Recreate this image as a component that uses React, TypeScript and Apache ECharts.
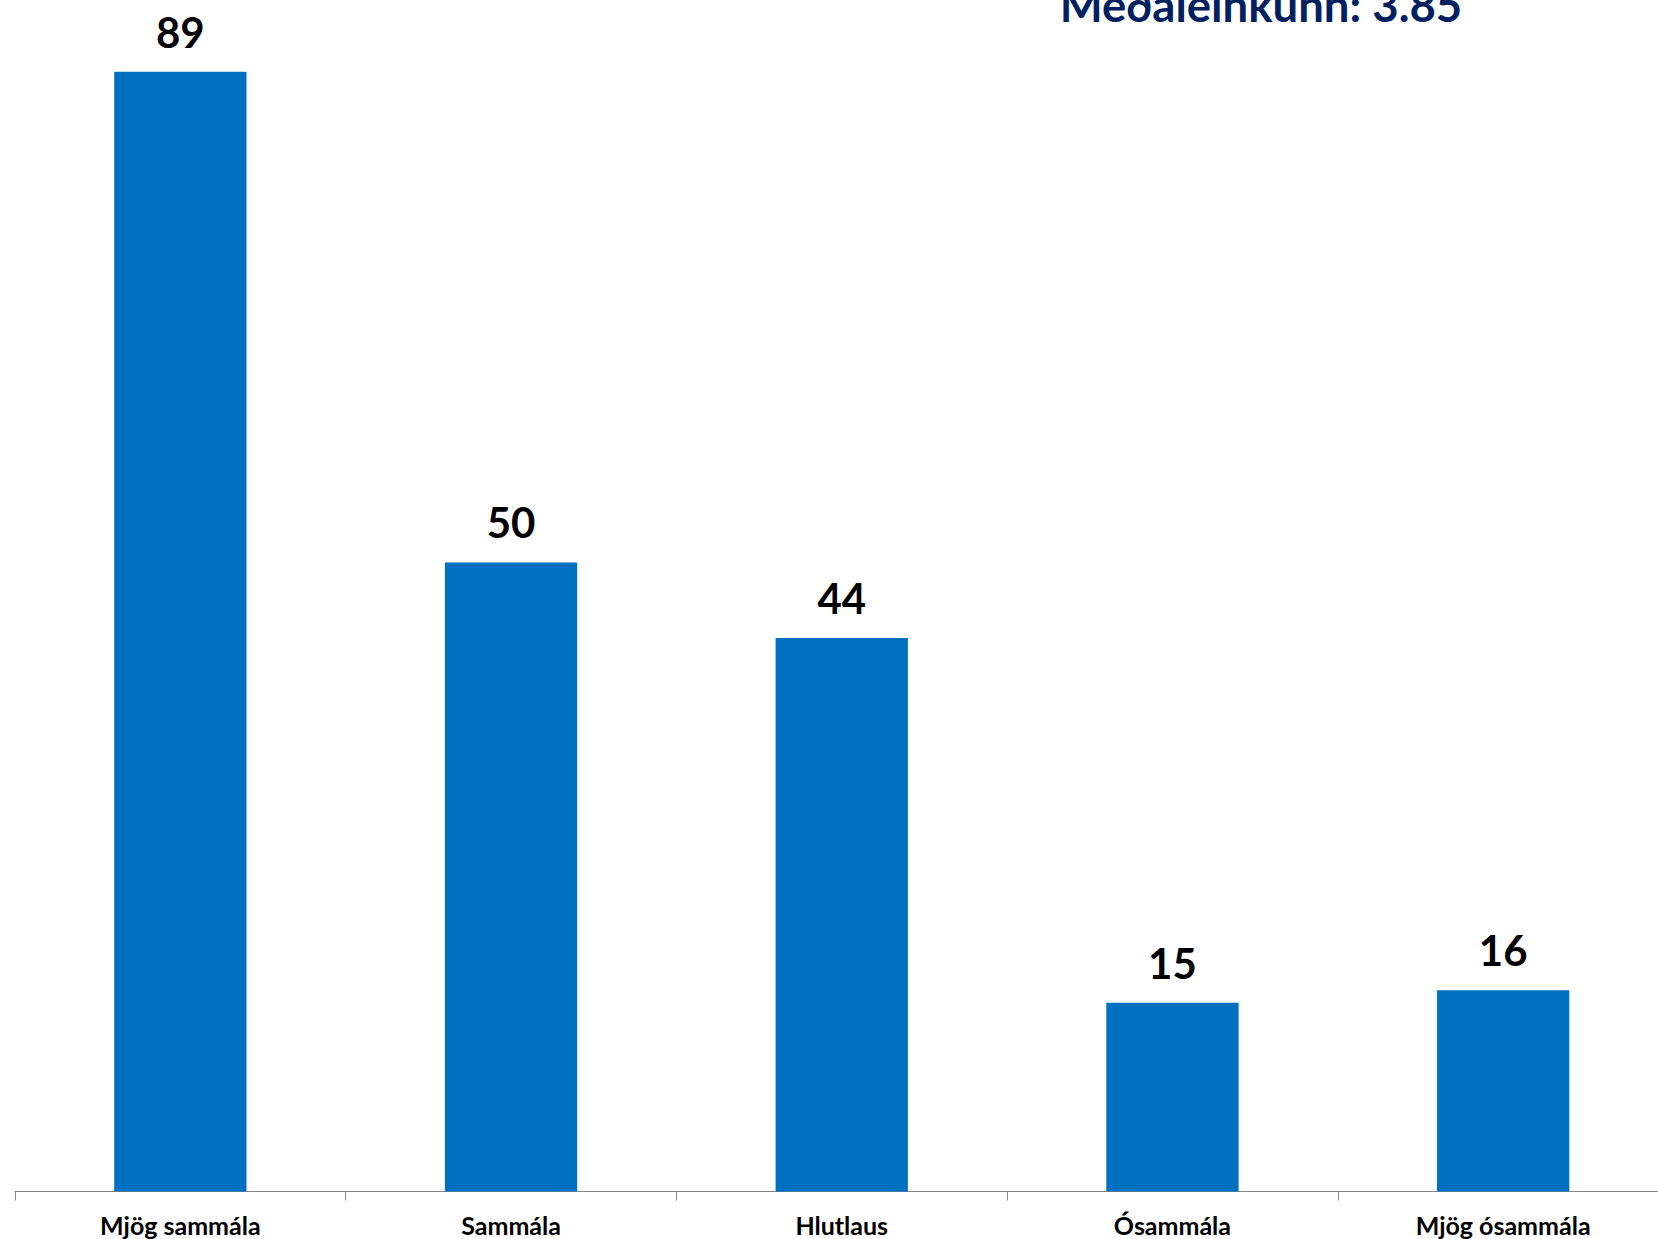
import React, { useEffect, useRef } from "react";
import * as echarts from "echarts";

const categories = ["Mjög sammála", "Sammála", "Hlutlaus", "Ósammála", "Mjög ósammála"];
const values = [89, 50, 44, 15, 16];
const titleText = "Meðaleinkunn: 3.85";

export default function App() {
  const ref = useRef<HTMLDivElement>(null);
  useEffect(() => {
    if (!ref.current) return;
    const chart = echarts.init(ref.current, undefined, { renderer: "svg" });
    chart.setOption({
      animation: false,
      backgroundColor: "#ffffff",
      textStyle: { fontFamily: "Lato" },
      graphic: [
        {
          type: "text",
          x: 1261,
          y: 4,
          style: {
            text: titleText,
            fontFamily: "Lato",
            fontWeight: "bold",
            fontSize: 45.5,
            fill: "#002060",
            align: "center",
            verticalAlign: "middle",
          },
        },
      ],
      grid: { left: 15, top: 0, width: 1653.5, height: 1191.5, containLabel: false },
      xAxis: {
        type: "category",
        data: categories,
        axisLine: { lineStyle: { color: "#868686", width: 1 } },
        axisTick: { show: true, length: 9, lineStyle: { color: "#868686" } },
        axisLabel: {
          color: "#000000",
          fontFamily: "Lato",
          fontWeight: "bold",
          fontSize: 25,
          margin: 21,
          interval: 0,
        },
      },
      yAxis: {
        type: "value",
        min: 0,
        max: 94.7,
        show: false,
        splitLine: { show: false },
      },
      series: [
        {
          type: "bar",
          data: values,
          barWidth: "40%",
          itemStyle: { color: "#0070C0" },
          label: {
            show: true,
            position: "top",
            distance: 19,
            color: "#000000",
            fontFamily: "Lato",
            fontWeight: "bold",
            fontSize: 42,
          },
        },
      ],
    });
    return () => chart.dispose();
  }, []);
  return (
    <div style={{ position: "fixed", left: 0, top: 0, width: 1658, height: 1239, overflow: "hidden", background: "#fff" }}>
      <div ref={ref} style={{ width: 1690, height: 1239 }} />
    </div>
  );
}
